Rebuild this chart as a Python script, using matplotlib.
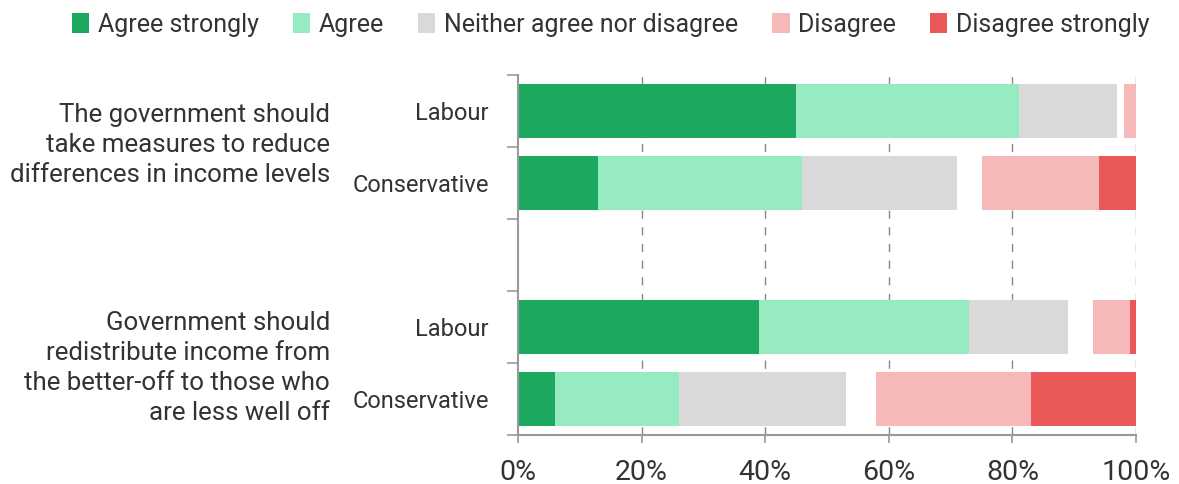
import matplotlib.pyplot as plt
import numpy as np

plt.rcParams['font.family'] = ['Roboto', 'DejaVu Sans']

# data (percent of respondents)
parties = ['Labour', 'Conservative', 'Labour', 'Conservative']
questions = ['The government should\ntake measures to reduce\ndifferences in income levels',
             'Government should\nredistribute income from\nthe better-off to those who\nare less well off']
agree_strongly = [45, 13, 39, 6]
agree = [36, 33, 34, 20]
neither = [16, 25, 16, 27]
dont_know = [1, 4, 4, 5]          # blank gap
disagree = [2, 19, 6, 25]
disagree_strongly = [0, 6, 1, 17]

series = [
    ('Agree strongly', agree_strongly, '#1da85f'),
    ('Agree', agree, '#96ecc0'),
    ('Neither agree nor disagree', neither, '#d9d9d9'),
    (None, dont_know, 'none'),
    ('Disagree', disagree, '#f5b9b9'),
    ('Disagree strongly', disagree_strongly, '#ea5858'),
]

ypos = [0, 1, 3, 4]
xticks = [0, 20, 40, 60, 80, 100]
txt = '#333333'

fig = plt.figure(figsize=(11.79, 4.84), dpi=100)
ax = fig.add_axes([518/1179, 1 - 435/484, (1136 - 518)/1179, (435 - 75)/484])

left = np.zeros(len(ypos))
handles = []
for name, vals, col in series:
    b = ax.barh(ypos, vals, left=left, height=0.76, color=col, edgecolor='none', zorder=3)
    if name:
        b.set_label(name)
        handles.append(b)
    left += np.array(vals)

# dashed gridlines (not at 0, where the spine is)
for xv in xticks[1:]:
    ax.axvline(xv, linestyle=(0, (6, 6)), color='#888888', linewidth=1, zorder=1)

ax.set_xlim(0, 100)
ax.set_ylim(4.5, -0.5)
ax.set_xticks(xticks)
ax.set_xticklabels([f'{v}%' for v in xticks], fontsize=20.5, color=txt)
ax.set_yticks(ypos)
ax.set_yticklabels(parties, fontsize=17, color=txt)
ax.set_yticks([-0.5, 0.5, 1.5, 2.5, 3.5, 4.5], minor=True)
ax.tick_params(axis='y', which='major', length=0, pad=21)
ax.tick_params(axis='y', which='minor', length=8, color='#999999', width=1.2)
ax.tick_params(axis='x', length=6, color='#999999', width=1.2, pad=11)

for s in ['top', 'right']:
    ax.spines[s].set_visible(False)
for s in ['left', 'bottom']:
    ax.spines[s].set_color('#999999')
    ax.spines[s].set_linewidth(1.5)
    ax.spines[s].set_zorder(4)

# question labels
fig.text(330/1179, 1 - 145/484, questions[0], ha='right', va='center',
         fontsize=18.6, color=txt, linespacing=1.3, multialignment='right')
fig.text(330/1179, 1 - 368/484, questions[1], ha='right', va='center',
         fontsize=18.6, color=txt, linespacing=1.3, multialignment='right')

leg = fig.legend(handles=handles, loc='upper center', bbox_to_anchor=(0.518, 1.02),
                 ncol=5, frameon=False, fontsize=18, handlelength=0.7,
                 handleheight=0.85, handletextpad=0.35, columnspacing=1.35)
for t in leg.get_texts():
    t.set_color(txt)

fig.savefig('out.png', dpi=100, facecolor='white')
plt.close()
